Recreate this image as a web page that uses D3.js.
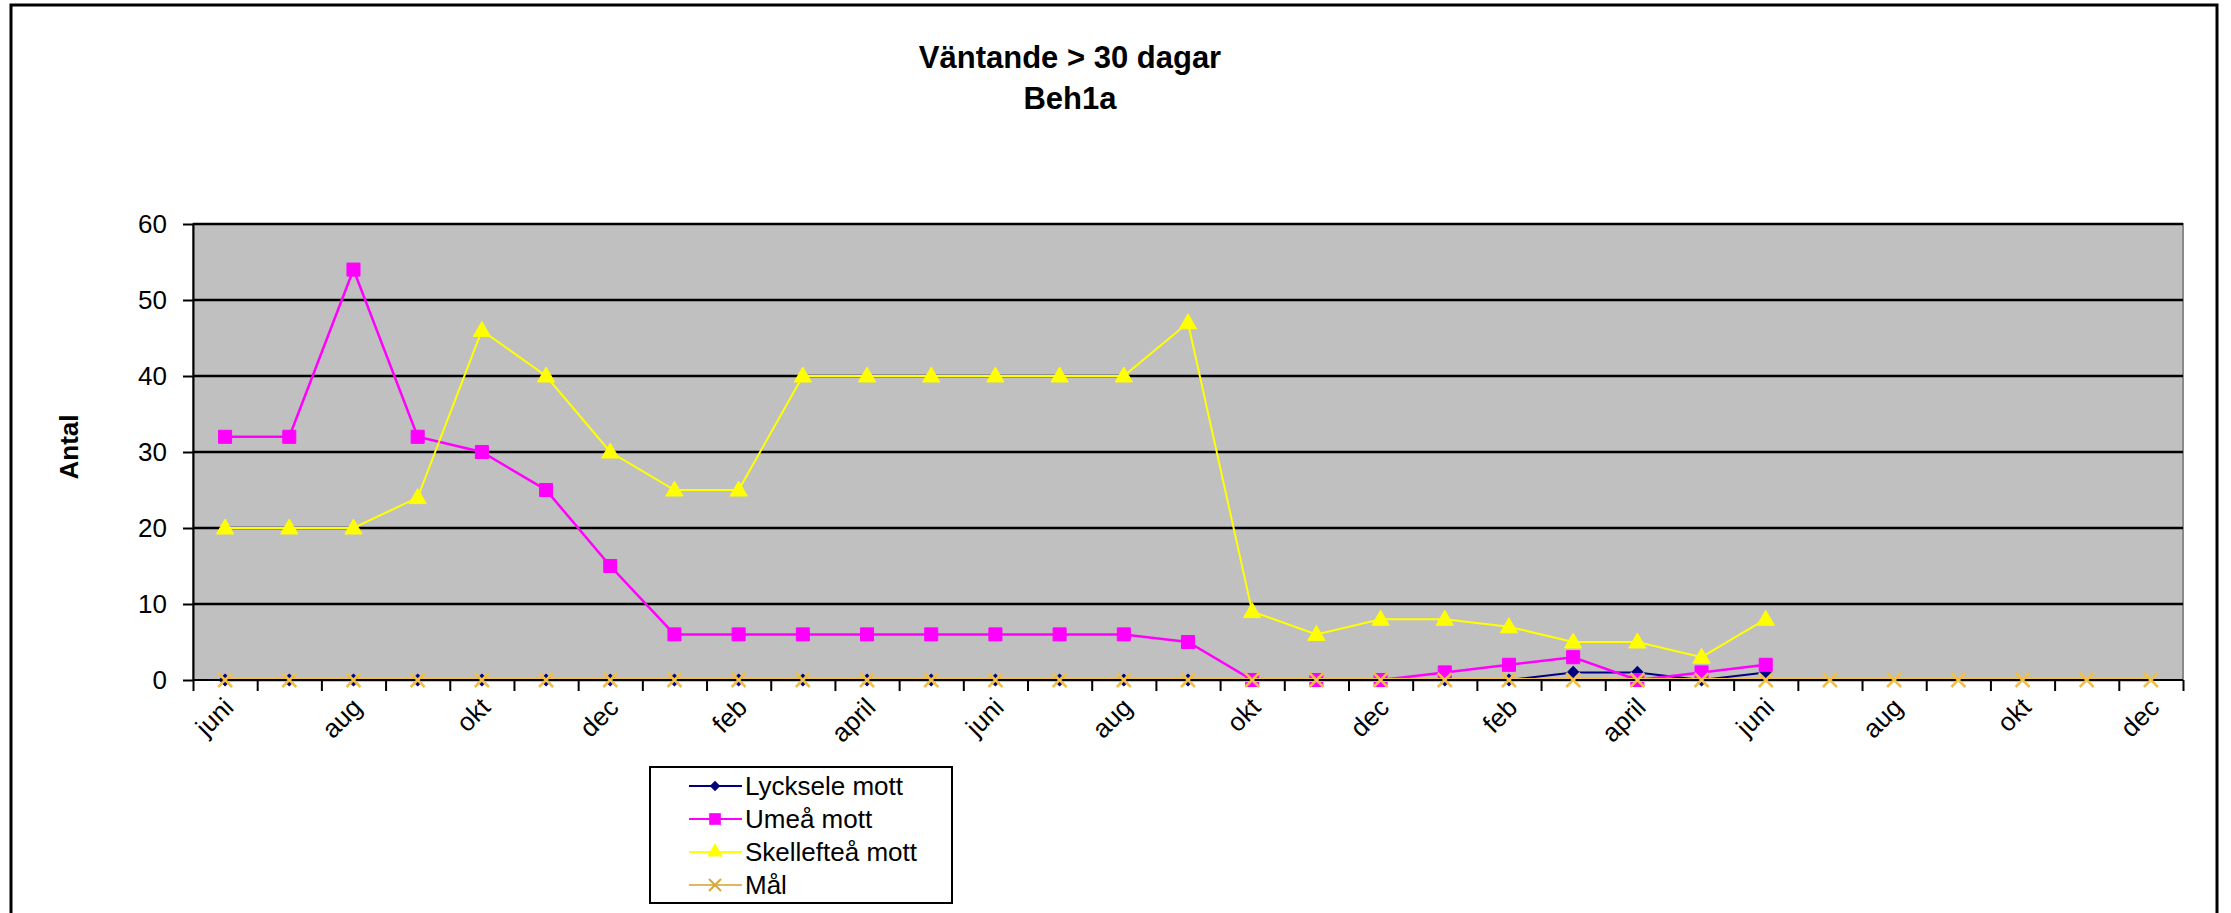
<!DOCTYPE html>
<html lang="sv">
  <head>
    <meta charset="utf-8">
    <title>Väntande > 30 dagar - Beh1a</title>
    <style>
      body { margin: 0; background: #fff; }
      text { font-family: Arial, "Liberation Sans", sans-serif; }
      .axis text { font-size: 26px; fill: #000; }
      .axis path, .axis line { stroke: #000; stroke-width: 2px; }
    </style>
  </head>
  <body>
    <div id="chart"></div>

    <script src="https://d3js.org/d3.v7.min.js"></script>
    <script>
// months (every category), only every second one gets a label
var months = ["juni","juli","aug","sep","okt","nov","dec","jan","feb","mars","april","maj",
              "juni","juli","aug","sep","okt","nov","dec","jan","feb","mars","april","maj",
              "juni","juli","aug","sep","okt","nov","dec"];

var lycksele   = [0,0,0,0,0,0,0,0,0,0,0,0,0,0,0,0,0,0,0,0,0,1,1,0,1];
var umea       = [32,32,54,32,30,25,15,6,6,6,6,6,6,6,6,5,0,0,0,1,2,3,0,1,2];
var skelleftea = [20,20,20,24,46,40,30,25,25,40,40,40,40,40,40,47,9,6,8,8,7,5,5,3,8];
var mal        = [0,0,0,0,0,0,0,0,0,0,0,0,0,0,0,0,0,0,0,0,0,0,0,0,0,0,0,0,0,0,0];

var seriesNames = ["Lycksele mott", "Umeå mott", "Skellefteå mott", "Mål"];
var yTicks = [0, 10, 20, 30, 40, 50, 60];

// view size and plot area
var w_view = 2231;
var h_view = 913;
var m = {top: 224, right: 48, bottom: 233, left: 193};
var w_chart = w_view - m.left - m.right;
var h_chart = h_view - m.top - m.bottom;

var svg = d3.select("#chart")
            .append("svg")
            .attr("width", w_view)
            .attr("height", h_view);

// chart border
svg.append("rect")
   .attr("x", 11).attr("y", 5)
   .attr("width", 2206).attr("height", 940)
   .style("fill", "#fff")
   .style("stroke", "#000")
   .style("stroke-width", 3);

// title
var title = svg.append("text")
   .attr("x", 1070)
   .attr("text-anchor", "middle")
   .style("font-weight", "bold")
   .style("font-size", "31px");
title.append("tspan").attr("x", 1070).attr("y", 68).text("Väntande > 30 dagar");
title.append("tspan").attr("x", 1070).attr("y", 109).text("Beh1a");

// scales
var x = d3.scaleBand()
          .domain(d3.range(months.length))
          .range([m.left, m.left + w_chart]);
var xEdge = d3.scaleLinear()
              .domain([0, months.length])
              .range([m.left, m.left + w_chart]);
var y = d3.scaleLinear()
          .domain([0, 60])
          .range([m.top + h_chart, m.top]);
var cx = i => x(i) + x.bandwidth() / 2;

// plot area
svg.append("rect")
   .attr("x", m.left).attr("y", m.top)
   .attr("width", w_chart).attr("height", h_chart)
   .style("fill", "#c0c0c0")
   .style("stroke", "#8a8a8a")
   .style("stroke-width", 2);

// gridlines
svg.append("g")
   .selectAll("line")
   .data(yTicks.slice(1))
   .join("line")
   .attr("x1", m.left).attr("x2", m.left + w_chart)
   .attr("y1", d => y(d)).attr("y2", d => y(d))
   .style("stroke", "#000")
   .style("stroke-width", 2.5);

// y axis
svg.append("g")
   .attr("class", "axis")
   .attr("transform", "translate(" + m.left + ",0)")
   .call(d3.axisLeft(y).tickValues(yTicks).tickSize(10).tickPadding(16).tickSizeOuter(0));

// y axis label
svg.append("text")
   .attr("transform", "translate(78,447) rotate(-90)")
   .attr("text-anchor", "middle")
   .style("font-weight", "bold")
   .style("font-size", "26px")
   .text("Antal");

// series
var series = [
  {name: seriesNames[0], values: lycksele,   color: "#000080", width: 2,   shape: "diamond",         size: 70},
  {name: seriesNames[1], values: umea,       color: "#ff00ff", width: 2.5, shape: d3.symbolSquare,   size: 170},
  {name: seriesNames[2], values: skelleftea, color: "#ffff00", width: 2,   shape: d3.symbolTriangle, size: 130},
  {name: seriesNames[3], values: mal,        color: "#f0c048", width: 4,   shape: "x",               size: 7}
];

var line = d3.line()
             .x((d, i) => cx(i))
             .y(d => y(d));

function xPath(px, py, r) {
  return "M" + (px - r) + "," + (py - r) + "L" + (px + r) + "," + (py + r) +
         "M" + (px - r) + "," + (py + r) + "L" + (px + r) + "," + (py - r);
}

// square diamond (excel style), a square turned 45 degrees
function symbolOf(s, k) {
  if (s.shape === "diamond") return d3.symbol().type(d3.symbolSquare).size(s.size * k);
  return d3.symbol().type(s.shape).size(s.size * k);
}
function turn(s) { return s.shape === "diamond" ? " rotate(45)" : ""; }

function drawMarker(g, s) {
  if (s.shape === "x") {
    g.selectAll("path.mk")
     .data(s.values)
     .join("path")
     .attr("class", "mk")
     .attr("d", (d, i) => xPath(cx(i), y(d), s.size))
     .style("stroke", s.color)
     .style("stroke-width", 2.5)
     .style("fill", "none");
  } else {
    g.selectAll("path.mk")
     .data(s.values)
     .join("path")
     .attr("class", "mk")
     .attr("transform", (d, i) => "translate(" + cx(i) + "," + (y(d) + (s.shape === d3.symbolTriangle ? 1 : 0)) + ")" + turn(s))
     .attr("d", symbolOf(s, 1))
     .style("fill", s.color)
     .style("stroke", s.color)
     .style("stroke-width", 1);
  }
}

series.forEach(function(s) {
  var g = svg.append("g");
  g.append("path")
   .datum(s.values)
   .attr("d", line)
   .style("fill", "none")
   .style("stroke", s.color)
   .style("stroke-width", s.width);
  if (s.shape === "x") {
    // x axis line sits over the target line
    g.append("line")
     .attr("x1", m.left).attr("x2", m.left + w_chart)
     .attr("y1", y(0)).attr("y2", y(0))
     .style("stroke", "#000")
     .style("stroke-width", 2);
  }
  drawMarker(g, s);
});

// x axis tick marks between categories
svg.append("g")
   .attr("class", "axis")
   .attr("transform", "translate(0," + y(0) + ")")
   .call(d3.axisBottom(xEdge).tickValues(d3.range(months.length + 1)).tickFormat("").tickSize(11).tickSizeOuter(0))
   .select(".domain").remove();

// x labels, every second month
svg.append("g")
   .selectAll("text")
   .data(months.map((d, i) => ({label: d, i: i})).filter(d => d.i % 2 === 0))
   .join("text")
   .attr("transform", d => "translate(" + (cx(d.i) + 10) + ",709) rotate(-45)")
   .attr("text-anchor", "end")
   .style("font-size", "26px")
   .text(d => d.label);

// legend
var legend = svg.append("g");
legend.append("rect")
      .attr("x", 650).attr("y", 767)
      .attr("width", 302).attr("height", 136)
      .style("fill", "#fff")
      .style("stroke", "#000")
      .style("stroke-width", 2);

series.forEach(function(s, k) {
  var ly = 786 + k * 33;
  var g = legend.append("g");
  g.append("line")
   .attr("x1", 689).attr("x2", 742)
   .attr("y1", ly).attr("y2", ly)
   .style("stroke", s.shape === "x" ? "#e0b860" : s.color)
   .style("stroke-width", 2);
  if (s.shape === "x") {
    g.append("path")
     .attr("d", xPath(715, ly, 6))
     .style("stroke", "#d8a838")
     .style("stroke-width", 2);
  } else {
    g.append("path")
     .attr("transform", "translate(715," + ly + ")" + turn(s))
     .attr("d", symbolOf(s, 0.8))
     .style("fill", s.color);
  }
  g.append("text")
   .attr("x", 745).attr("y", ly + 9)
   .style("font-size", "26px")
   .text(s.name);
});
    </script>
  </body>
</html>
